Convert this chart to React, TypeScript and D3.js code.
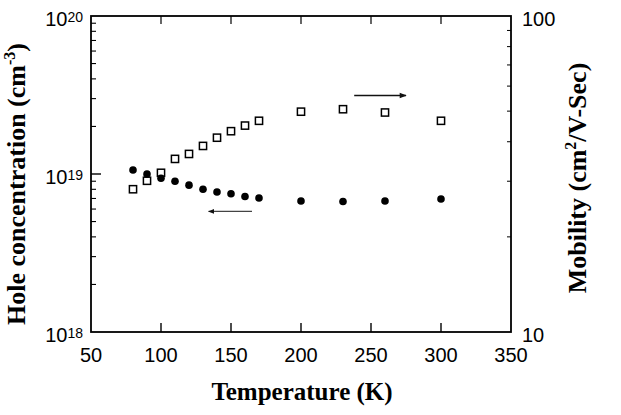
import React from 'react';
import * as d3 from 'd3';

// Temperature (K) for both series
const tempHole = [80, 90, 100, 110, 120, 130, 140, 150, 160, 170, 200, 230, 260, 300];
const holeConc = [1.06e19, 1.0e19, 9.4e18, 9.0e18, 8.5e18, 8.0e18, 7.7e18, 7.5e18, 7.2e18, 7.05e18, 6.75e18, 6.7e18, 6.75e18, 6.95e18];

const tempMob = [80, 90, 100, 110, 120, 130, 140, 150, 160, 170, 200, 230, 260, 300];
const mobility = [28.3, 30.1, 31.9, 35.3, 36.6, 38.8, 41.2, 43.2, 45.0, 46.6, 49.8, 50.7, 49.5, 46.6];

const xTicks = [50, 100, 150, 200, 250, 300, 350];
const leftExp = [18, 19, 20];
const rightTicks = [10, 100];

// annotation arrows, in data units
const mobArrow = { t0: 238, t1: 275, v: 56 };
const holeArrow = { t0: 165, t1: 134, v: 5.8e18 };

const W = 621;
const H = 415;
const num = '"Liberation Sans", Arial, sans-serif';
const serif = '"Liberation Serif", "Times New Roman", serif';

export default function App() {
  const x = d3.scaleLinear().domain([50, 350]).range([91, 511]);
  const yL = d3.scaleLog().domain([1e18, 1e20]).range([332, 16]);
  const yR = d3.scaleLog().domain([10, 100]).range([332, 16]);

  const left = x(50), right = x(350), top = yL(1e20), bottom = yL(1e18);

  const minorL: number[] = [];
  [1e18, 1e19].forEach(d => { for (let k = 2; k <= 9; k++) minorL.push(d * k); });
  const minorR: number[] = [];
  for (let k = 2; k <= 9; k++) minorR.push(10 * k);

  return (
    <svg width={W} height={H} style={{ position: 'absolute', left: 0, top: 0, background: '#fff' }}>
      <defs>
        <marker id="ah" viewBox="0 0 10 10" refX="9" refY="5" markerWidth="7" markerHeight="5" orient="auto">
          <path d="M0,1 L10,5 L0,9 z" fill="#111" />
        </marker>
      </defs>

      {/* frame */}
      <rect x={left} y={top} width={right - left} height={bottom - top} fill="none" stroke="#000" strokeWidth={1.8} />

      {/* x ticks, bottom and top, inward */}
      {xTicks.slice(1, -1).map(t => (
        <g key={t}>
          <line x1={x(t)} x2={x(t)} y1={bottom} y2={bottom - 9} stroke="#000" strokeWidth={1.4} />
          <line x1={x(t)} x2={x(t)} y1={top} y2={top + 8} stroke="#000" strokeWidth={1.2} />
        </g>
      ))}
      {xTicks.map(t => (
        <text key={t} x={x(t)} y={362} textAnchor="middle" fontFamily={num} fontSize={20}>{t}</text>
      ))}

      {/* left log axis */}
      {minorL.map(v => (
        <line key={v} x1={left} x2={left + 5} y1={yL(v)} y2={yL(v)} stroke="#000" strokeWidth={1.1} />
      ))}
      <line x1={left} x2={left + 10} y1={yL(1e19)} y2={yL(1e19)} stroke="#000" strokeWidth={1.4} />
      {leftExp.map(e => (
        <text key={e} x={83} y={yL(Math.pow(10, e)) + 10} textAnchor="end" fontFamily={num} fontSize={20}>
          10<tspan fontSize={14} dy={-4}>{e}</tspan>
        </text>
      ))}

      {/* right log axis */}
      {minorR.map(v => (
        <line key={v} x1={right} x2={right - 4} y1={yR(v)} y2={yR(v)} stroke="#000" strokeWidth={1} />
      ))}
      {rightTicks.map(v => (
        <text key={v} x={522} y={yR(v) + 10} fontFamily={num} fontSize={20}>{v}</text>
      ))}

      {/* hole concentration: filled circles */}
      {holeConc.map((v, i) => (
        <circle key={i} cx={x(tempHole[i])} cy={yL(v)} r={3.8} fill="#000" />
      ))}

      {/* mobility: open squares */}
      {mobility.map((v, i) => (
        <rect key={i} x={x(tempMob[i]) - 3.6} y={yR(v) - 3.6} width={7.2} height={7.2} fill="none" stroke="#000" strokeWidth={1.5} />
      ))}

      {/* arrows */}
      <line x1={x(mobArrow.t0)} x2={x(mobArrow.t1)} y1={yR(mobArrow.v)} y2={yR(mobArrow.v)} stroke="#111" strokeWidth={1.4} markerEnd="url(#ah)" />
      <line x1={x(holeArrow.t0)} x2={x(holeArrow.t1)} y1={yL(holeArrow.v)} y2={yL(holeArrow.v)} stroke="#444" strokeWidth={1.2} markerEnd="url(#ah)" />

      {/* axis titles */}
      <text x={302} y={400} textAnchor="middle" fontFamily={serif} fontWeight="bold" fontSize={25}>Temperature (K)</text>
      <text transform={`translate(25,184) rotate(-90)`} textAnchor="middle" fontFamily={serif} fontWeight="bold" fontSize={26}>
        Hole concentration (cm<tspan fontSize={16} dy={-10}>-3</tspan><tspan dy={10}>)</tspan>
      </text>
      <text transform={`translate(586,178) rotate(-90)`} textAnchor="middle" fontFamily={serif} fontWeight="bold" fontSize={26}>
        Mobility (cm<tspan fontSize={16} dy={-10}>2</tspan><tspan dy={10}>/V-Sec)</tspan>
      </text>
    </svg>
  );
}
